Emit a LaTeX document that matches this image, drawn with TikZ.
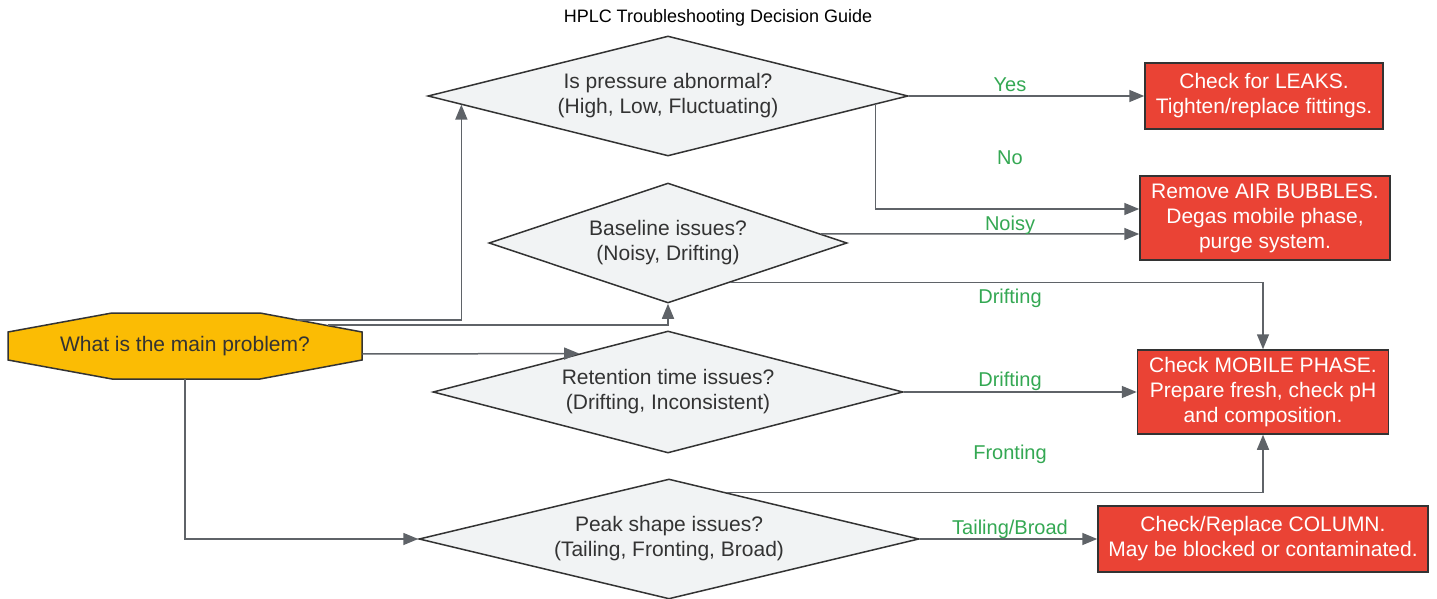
\documentclass[tikz,border=0pt]{standalone}
\usepackage{fontspec}
\setmainfont{Liberation Sans}
\usetikzlibrary{shapes.geometric,arrows.meta,calc}
\definecolor{edgec}{HTML}{333333}
\definecolor{arrc}{HTML}{5F6368}
\definecolor{diafill}{HTML}{F1F3F4}
\definecolor{startfill}{HTML}{FBBC04}
\definecolor{fixred}{HTML}{EA4335}
\definecolor{lblgreen}{HTML}{34A853}
\definecolor{txtc}{HTML}{333333}
\begin{document}
\begin{tikzpicture}[x=0.5pt,y=-0.5pt,
  dia/.style={diamond,aspect=4.5,draw=edgec,fill=diafill,line width=0.75pt,inner sep=0pt,text=txtc,align=center,font=\fontsize{10.5pt}{12.5pt}\selectfont},
  fix/.style={rectangle,draw=edgec,fill=fixred,line width=0.75pt,inner sep=0pt,text=white,align=center,font=\fontsize{10.5pt}{12.5pt}\selectfont},
  startbox/.style={rectangle,inner sep=0pt,text=txtc,font=\fontsize{10.5pt}{12.5pt}\selectfont,minimum width=177pt,minimum height=33pt},
  lbl/.style={text=lblgreen,font=\fontsize{10pt}{12pt}\selectfont,inner sep=0pt},
  conn/.style={draw=arrc,line width=0.75pt,-{Triangle[length=7.5pt,width=6pt]}},
]
\useasboundingbox (0,0) rectangle (1437,599);
\fill[white] (0,0) rectangle (1437,599);

\node[font=\fontsize{9pt}{11pt}\selectfont] (title) at (718,18) {HPLC Troubleshooting Decision Guide};

% start octagon
\draw[draw=edgec,fill=startfill,line width=0.75pt] (8,332) -- (112,313) -- (260,313) -- (362,332) -- (362,360) -- (260,379) -- (112,379) -- (8,360) -- cycle;
\node[startbox] (start) at (185,346) {What is the main problem?};

% decisions
\node[dia,minimum width=240pt,minimum height=60pt] (d1) at (668,96) {Is pressure abnormal?\\(High, Low, Fluctuating)};
\node[dia,minimum width=179pt,minimum height=60pt] (d2) at (668,243) {Baseline issues?\\(Noisy, Drifting)};
\node[dia,minimum width=235pt,minimum height=61pt] (d3) at (668,392) {Retention time issues?\\(Drifting, Inconsistent)};
\node[dia,minimum width=250pt,minimum height=60pt] (d4) at (669,539) {Peak shape issues?\\(Tailing, Fronting, Broad)};

% fixes
\node[fix,minimum width=119pt,minimum height=33pt] (b1) at (1264,96) {Check for LEAKS.\\Tighten/replace fittings.};
\node[fix,minimum width=125pt,minimum height=42pt] (b2) at (1265,218) {Remove AIR BUBBLES.\\Degas mobile phase,\\purge system.};
\node[fix,minimum width=125.5pt,minimum height=42pt] (b3) at (1263,392) {Check MOBILE PHASE.\\Prepare fresh, check pH\\and composition.};
\node[fix,minimum width=165pt,minimum height=33pt] (b4) at (1263,539) {Check/Replace COLUMN.\\May be blocked or contaminated.};

% connectors from start
\draw[conn] ($(start.center)+(112,-26)$) -| ($(d1.west)!0.1417!(d1.south)$);
\draw[conn] ($(start.center)+(143,-21)$) -| (d2.south);
\draw[conn] ($(start.east)+(0,8)$) -- ($(d3.west)!0.623!(d3.north)$);
\draw[conn] (start.south) |- (d4.west);

% connectors to fixes
\draw[conn] (d1.east) -- (b1.west);
\draw[conn] ($(d1.east)!0.1375!(d1.south)$) |- ($(b2.west)+(0,-9)$);
\draw[conn] ($(d2.north)!0.85!(d2.east)$) -- ($(b2.west)+(0,16)$);
\draw[conn] ($(d2.east)!0.65!(d2.south)$) -| (b3.north);
\draw[conn] (d3.east) -- (b3.west);
\draw[conn] ($(d4.north)!0.233!(d4.east)$) -| (b3.south);
\draw[conn] (d4.east) -- (b4.west);

% labels
\node[lbl] (lyes) at (1010,85) {Yes};
\node[lbl] (lno) at (1010,158) {No};
\node[lbl] (lnoisy) at (1010,225) {Noisy};
\node[lbl] (ldrift1) at (1010,298) {Drifting};
\node[lbl] (ldrift2) at (1010,381) {Drifting};
\node[lbl] (lfront) at (1010,454) {Fronting};
\node[lbl] (ltail) at (1010,529) {Tailing/Broad};
\end{tikzpicture}
\end{document}
